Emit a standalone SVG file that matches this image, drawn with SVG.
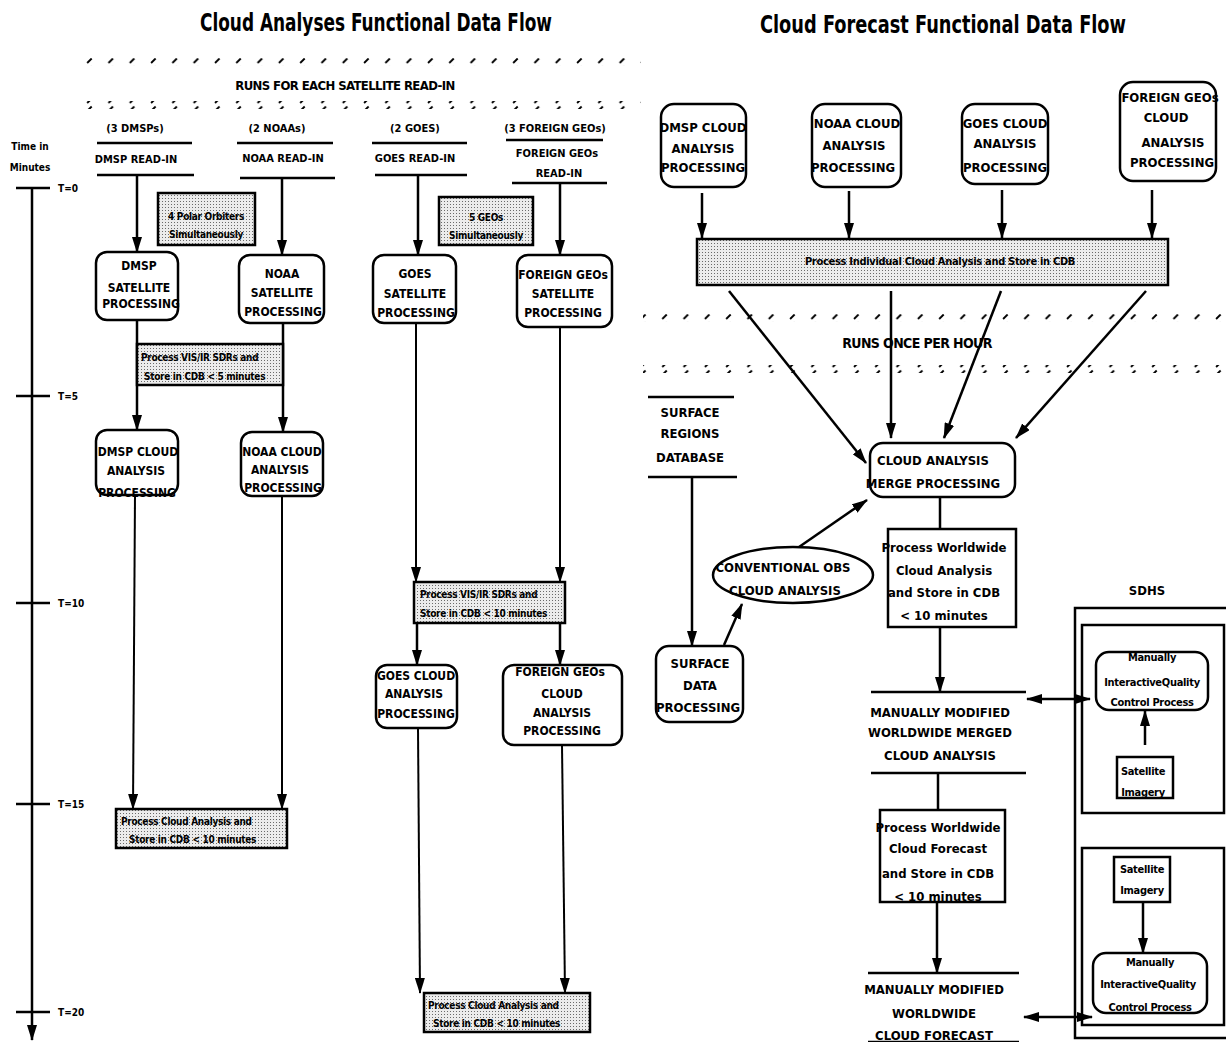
<svg xmlns="http://www.w3.org/2000/svg" width="1226" height="1042" viewBox="0 0 1226 1042">
<style>
  text { font-family: "Liberation Sans Narrow", "Arial Narrow", "DejaVu Sans Condensed", "Liberation Sans", sans-serif; font-weight: bold; fill: #000; text-anchor: middle; }
  .title { font-size: 24px; }
  .band { font-size: 13px; letter-spacing: -0.6px; }
  .hdr { font-size: 11px; }
  .lbl { font-size: 12px; }
  .big { font-size: 13px; }
  .sm { font-size: 10px; text-anchor: start; letter-spacing: -0.3px; }
  .smc { font-size: 10px; letter-spacing: -0.3px; }
  .time { font-size: 10px; text-anchor: start; }
  .box { fill: #fff; stroke: #000; stroke-width: 2.5; }
  .shade { fill: url(#dots); stroke: #000; stroke-width: 2.5; }
  .rule { stroke: #000; stroke-width: 2.5; fill: none; }
  .arr { stroke: #000; stroke-width: 2.5; fill: none; marker-end: url(#ah); }
  .thin { stroke: #000; stroke-width: 2; fill: none; marker-end: url(#ah); }
  .dbl { stroke: #000; stroke-width: 2.5; fill: none; marker-end: url(#ah); marker-start: url(#ah); }
  .frame { fill: none; stroke: #000; stroke-width: 2.5; }
</style>
<defs>
  <pattern id="dots" width="3" height="3" patternUnits="userSpaceOnUse">
    <rect width="3" height="3" fill="#ececec"/>
    <rect width="1" height="1" fill="#6a6a6a"/>
  </pattern>
  <pattern id="slash" width="21.3" height="8" patternUnits="userSpaceOnUse">
    <line x1="2" y1="7" x2="6.5" y2="2.5" stroke="#000" stroke-width="1.8"/>
  </pattern>
  <marker id="ah" markerUnits="userSpaceOnUse" markerWidth="16" markerHeight="10" viewBox="0 0 16 10" refX="15" refY="5" orient="auto-start-reverse">
    <path d="M0,0 L16,5 L0,10 z" fill="#000"/>
  </marker>
</defs>

<!-- headings -->
<text class="title" x="376" y="31" textLength="352" lengthAdjust="spacingAndGlyphs">Cloud Analyses Functional Data Flow</text>
<text class="title" x="943" y="33" textLength="366" lengthAdjust="spacingAndGlyphs">Cloud Forecast Functional Data Flow</text>

<!-- run-frequency bands -->
<g id="band-satellite">
  <rect x="85" y="58" width="556" height="8" fill="url(#slash)"/>
  <text class="band" x="345" y="90">RUNS FOR EACH SATELLITE READ-IN</text>
  <rect x="85" y="101" width="556" height="8" fill="url(#slash)"/>
</g>
<g id="band-hourly">
  <rect x="643" y="314" width="583" height="8" fill="url(#slash)"/>
  <text class="band" x="917" y="348" style="font-size:14px">RUNS ONCE PER HOUR</text>
  <rect x="643" y="365" width="583" height="8" fill="url(#slash)"/>
</g>

<!-- time axis -->
<g id="time-axis">
  <text class="hdr" x="30" y="150" style="font-size:10px">Time in</text>
  <text class="hdr" x="30" y="171" style="font-size:10px">Minutes</text>
  <line x1="32" y1="188" x2="32" y2="1040" stroke="#000" stroke-width="2.5" marker-end="url(#ah)"/>
  <line x1="16" y1="188" x2="50" y2="188" stroke="#000" stroke-width="2.5"/>
  <line x1="16" y1="396" x2="50" y2="396" stroke="#000" stroke-width="2.5"/>
  <line x1="16" y1="603" x2="50" y2="603" stroke="#000" stroke-width="2.5"/>
  <line x1="16" y1="804" x2="50" y2="804" stroke="#000" stroke-width="2.5"/>
  <line x1="16" y1="1012" x2="50" y2="1012" stroke="#000" stroke-width="2.5"/>
  <text class="time" x="58" y="192">T=0</text>
  <text class="time" x="58" y="400">T=5</text>
  <text class="time" x="58" y="607">T=10</text>
  <text class="time" x="58" y="808">T=15</text>
  <text class="time" x="58" y="1016">T=20</text>
</g>

<!-- read-in data stores -->
<g id="dmsp-readin">
  <text class="hdr" x="135" y="132">(3 DMSPs)</text>
  <line class="rule" x1="97" y1="143" x2="192" y2="143"/>
  <text class="hdr" x="136" y="163">DMSP READ-IN</text>
  <line class="rule" x1="97" y1="175" x2="194" y2="175"/>
</g>
<g id="noaa-readin">
  <text class="hdr" x="277" y="132">(2 NOAAs)</text>
  <line class="rule" x1="237" y1="143" x2="333" y2="143"/>
  <text class="hdr" x="283" y="162">NOAA READ-IN</text>
  <line class="rule" x1="240" y1="178" x2="335" y2="178"/>
</g>
<g id="goes-readin">
  <text class="hdr" x="415" y="132">(2 GOES)</text>
  <line class="rule" x1="372" y1="143" x2="467" y2="143"/>
  <text class="hdr" x="415" y="162">GOES READ-IN</text>
  <line class="rule" x1="375" y1="175" x2="467" y2="175"/>
</g>
<g id="foreign-readin">
  <text class="hdr" x="555" y="132">(3 FOREIGN GEOs)</text>
  <line class="rule" x1="506" y1="140" x2="603" y2="140"/>
  <text class="hdr" x="557" y="157">FOREIGN GEOs</text>
  <text class="hdr" x="559" y="177">READ-IN</text>
  <line class="rule" x1="512" y1="183" x2="607" y2="183"/>
</g>

<!-- notes -->
<g id="polar-note">
  <rect class="shade" x="158" y="193" width="97" height="52"/>
  <text class="smc" x="206" y="220">4 Polar Orbiters</text>
  <text class="smc" x="206" y="238">Simultaneously</text>
</g>
<g id="geo-note">
  <rect class="shade" x="439" y="197" width="94" height="48"/>
  <text class="smc" x="486" y="221">5 GEOs</text>
  <text class="smc" x="486" y="239">Simultaneously</text>
</g>

<!-- connectors -->
<g id="connectors">
  <!-- satellite analyses -->
  <line class="arr" x1="137" y1="175" x2="137" y2="252"/>
  <line class="arr" x1="282" y1="178" x2="282" y2="255"/>
  <line class="arr" x1="418" y1="175" x2="418" y2="255"/>
  <line class="arr" x1="560" y1="183" x2="560" y2="255"/>
  <line class="arr" x1="137" y1="320" x2="137" y2="430"/>
  <line class="arr" x1="283" y1="323" x2="283" y2="432"/>
  <line class="thin" x1="135" y1="495" x2="133" y2="809"/>
  <line class="thin" x1="282" y1="496" x2="282" y2="809"/>
  <line class="thin" x1="416" y1="323" x2="416" y2="582"/>
  <line class="thin" x1="560" y1="327" x2="560" y2="582"/>
  <line class="arr" x1="417" y1="623" x2="417" y2="665"/>
  <line class="arr" x1="560" y1="623" x2="560" y2="665"/>
  <line class="thin" x1="418" y1="728" x2="420" y2="993"/>
  <line class="thin" x1="562" y1="745" x2="565" y2="993"/>
  <!-- forecast flow -->
  <line class="arr" x1="702" y1="193" x2="702" y2="238"/>
  <line class="arr" x1="849" y1="191" x2="849" y2="238"/>
  <line class="arr" x1="1002" y1="190" x2="1002" y2="238"/>
  <line class="arr" x1="1152" y1="190" x2="1152" y2="238"/>
  <line class="arr" x1="729" y1="291" x2="866" y2="463"/>
  <line class="arr" x1="891" y1="291" x2="891" y2="438"/>
  <line class="arr" x1="1001" y1="291" x2="944" y2="438"/>
  <line class="arr" x1="1146" y1="291" x2="1016" y2="438"/>
  <line class="arr" x1="692" y1="477" x2="692" y2="646"/>
  <line class="arr" x1="724" y1="645" x2="742" y2="604"/>
  <line class="arr" x1="799" y1="547" x2="867" y2="500"/>
  <line class="rule" x1="940" y1="497" x2="940" y2="529"/>
  <line class="arr" x1="940" y1="627" x2="940" y2="692"/>
  <line class="rule" x1="938" y1="773" x2="938" y2="810"/>
  <line class="arr" x1="937" y1="902" x2="937" y2="973"/>
  <line class="dbl" x1="1027" y1="699" x2="1090" y2="699"/>
  <line class="dbl" x1="1024" y1="1017" x2="1092" y2="1017"/>
  <line class="arr" x1="1145" y1="745" x2="1145" y2="711"/>
  <line class="arr" x1="1143" y1="902" x2="1143" y2="953"/>
</g>

<!-- satellite processing -->
<g id="dmsp-sat">
  <rect class="box" x="96" y="252" width="82" height="68" rx="11"/>
  <text class="lbl" x="139" y="270">DMSP</text>
  <text class="lbl" x="139" y="292">SATELLITE</text>
  <text class="lbl" x="141" y="308">PROCESSING</text>
</g>
<g id="noaa-sat">
  <rect class="box" x="239" y="255" width="85" height="68" rx="11"/>
  <text class="lbl" x="282" y="278">NOAA</text>
  <text class="lbl" x="282" y="297">SATELLITE</text>
  <text class="lbl" x="283" y="316">PROCESSING</text>
</g>
<g id="goes-sat">
  <rect class="box" x="373" y="255" width="83" height="68" rx="11"/>
  <text class="lbl" x="415" y="278">GOES</text>
  <text class="lbl" x="415" y="298">SATELLITE</text>
  <text class="lbl" x="416" y="317">PROCESSING</text>
</g>
<g id="foreign-sat">
  <rect class="box" x="517" y="255" width="95" height="72" rx="11"/>
  <text class="lbl" x="563" y="279">FOREIGN GEOs</text>
  <text class="lbl" x="563" y="298">SATELLITE</text>
  <text class="lbl" x="563" y="317">PROCESSING</text>
</g>

<!-- SDR processing steps -->
<g id="polar-sdr">
  <rect class="shade" x="137" y="344" width="146" height="41"/>
  <text class="sm" x="141" y="361">Process VIS/IR SDRs and</text>
  <text class="sm" x="144" y="380">Store in CDB &lt; 5 minutes</text>
</g>
<g id="geo-sdr">
  <rect class="shade" x="414" y="582" width="151" height="41"/>
  <text class="sm" x="420" y="598">Process VIS/IR SDRs and</text>
  <text class="sm" x="420" y="617">Store in CDB &lt; 10 minutes</text>
</g>

<!-- cloud analysis processing (left) -->
<g id="dmsp-cloud">
  <text class="lbl" x="138" y="456">DMSP CLOUD</text>
  <text class="lbl" x="136" y="475">ANALYSIS</text>
  <text class="lbl" x="137" y="497">PROCESSING</text>
  <rect class="box" x="96" y="430" width="82" height="65" rx="11" style="fill:none"/>
</g>
<g id="noaa-cloud">
  <text class="lbl" x="282" y="456">NOAA CLOUD</text>
  <text class="lbl" x="280" y="474">ANALYSIS</text>
  <text class="lbl" x="283" y="492">PROCESSING</text>
  <rect class="box" x="241" y="432" width="82" height="64" rx="11" style="fill:none"/>
</g>
<g id="goes-cloud">
  <text class="lbl" x="416" y="680">GOES CLOUD</text>
  <text class="lbl" x="414" y="698">ANALYSIS</text>
  <text class="lbl" x="416" y="718">PROCESSING</text>
  <rect class="box" x="376" y="665" width="81" height="63" rx="11" style="fill:none"/>
</g>
<g id="foreign-cloud">
  <text class="lbl" x="560" y="676">FOREIGN GEOs</text>
  <text class="lbl" x="562" y="698">CLOUD</text>
  <text class="lbl" x="562" y="717">ANALYSIS</text>
  <text class="lbl" x="562" y="735">PROCESSING</text>
  <rect class="box" x="503" y="665" width="119" height="80" rx="11" style="fill:none"/>
</g>

<!-- cloud analysis storage steps -->
<g id="polar-store">
  <rect class="shade" x="116" y="809" width="171" height="39"/>
  <text class="sm" x="121" y="825">Process Cloud Analysis and</text>
  <text class="sm" x="129" y="843">Store in CDB &lt; 10 minutes</text>
</g>
<g id="geo-store">
  <rect class="shade" x="424" y="993" width="166" height="39"/>
  <text class="sm" x="428" y="1009">Process Cloud Analysis and</text>
  <text class="sm" x="433" y="1027">Store in CDB &lt; 10 minutes</text>
</g>

<!-- forecast side: individual analyses -->
<g id="f-dmsp">
  <rect class="box" x="661" y="104" width="85" height="83" rx="13"/>
  <text class="big" x="703" y="132">DMSP CLOUD</text>
  <text class="big" x="703" y="153">ANALYSIS</text>
  <text class="big" x="703" y="172">PROCESSING</text>
</g>
<g id="f-noaa">
  <rect class="box" x="812" y="104" width="89" height="83" rx="13"/>
  <text class="big" x="857" y="128">NOAA CLOUD</text>
  <text class="big" x="854" y="150">ANALYSIS</text>
  <text class="big" x="853" y="172">PROCESSING</text>
</g>
<g id="f-goes">
  <rect class="box" x="962" y="104" width="86" height="80" rx="13"/>
  <text class="big" x="1005" y="128">GOES CLOUD</text>
  <text class="big" x="1005" y="148">ANALYSIS</text>
  <text class="big" x="1005" y="172">PROCESSING</text>
</g>
<g id="f-foreign">
  <rect class="box" x="1120" y="82" width="96" height="99" rx="13"/>
  <text class="big" x="1170" y="102">FOREIGN GEOs</text>
  <text class="big" x="1166" y="122">CLOUD</text>
  <text class="big" x="1173" y="147">ANALYSIS</text>
  <text class="big" x="1172" y="167">PROCESSING</text>
</g>
<g id="f-individual">
  <rect class="shade" x="697" y="239" width="471" height="46"/>
  <text class="smc" x="940" y="265" style="font-size:11px">Process Individual Cloud Analysis and Store in CDB</text>
</g>

<!-- merge and forecast -->
<g id="surface-regions">
  <line class="rule" x1="648" y1="397" x2="734" y2="397"/>
  <text class="big" x="690" y="417">SURFACE</text>
  <text class="big" x="690" y="438">REGIONS</text>
  <text class="big" x="690" y="462">DATABASE</text>
  <line class="rule" x1="648" y1="477" x2="737" y2="477"/>
</g>
<g id="surface-data">
  <rect class="box" x="656" y="646" width="87" height="76" rx="13"/>
  <text class="big" x="700" y="668">SURFACE</text>
  <text class="big" x="700" y="690">DATA</text>
  <text class="big" x="698" y="712">PROCESSING</text>
</g>
<g id="conventional-obs">
  <ellipse class="box" cx="793" cy="575" rx="80" ry="28"/>
  <text class="big" x="783" y="572">CONVENTIONAL OBS</text>
  <text class="big" x="785" y="595">CLOUD ANALYSIS</text>
</g>
<g id="merge">
  <rect class="box" x="870" y="443" width="145" height="54" rx="13"/>
  <text class="big" x="933" y="465">CLOUD ANALYSIS</text>
  <text class="big" x="933" y="488">MERGE PROCESSING</text>
</g>
<g id="process-analysis">
  <rect class="box" x="888" y="529" width="128" height="98"/>
  <text class="big" x="944" y="552">Process Worldwide</text>
  <text class="big" x="944" y="575">Cloud Analysis</text>
  <text class="big" x="944" y="597">and Store in CDB</text>
  <text class="big" x="944" y="620">&lt; 10 minutes</text>
</g>
<g id="merged-analysis">
  <line class="rule" x1="871" y1="692" x2="1026" y2="692"/>
  <text class="big" x="940" y="717">MANUALLY MODIFIED</text>
  <text class="big" x="940" y="737">WORLDWIDE MERGED</text>
  <text class="big" x="940" y="760">CLOUD ANALYSIS</text>
  <line class="rule" x1="871" y1="773" x2="1026" y2="773"/>
</g>
<g id="process-forecast">
  <text class="big" x="938" y="832">Process Worldwide</text>
  <text class="big" x="938" y="853">Cloud Forecast</text>
  <text class="big" x="938" y="878">and Store in CDB</text>
  <text class="big" x="938" y="901">&lt; 10 minutes</text>
  <rect class="box" x="880" y="810" width="125" height="92" style="fill:none"/>
</g>
<g id="modified-forecast">
  <line class="rule" x1="868" y1="973" x2="1019" y2="973"/>
  <text class="big" x="934" y="994">MANUALLY MODIFIED</text>
  <text class="big" x="934" y="1018">WORLDWIDE</text>
  <text class="big" x="934" y="1040">CLOUD FORECAST</text>
  <line class="rule" x1="868" y1="1042" x2="1019" y2="1042"/>
</g>

<!-- SDHS -->
<g id="sdhs">
  <text class="big" x="1147" y="595">SDHS</text>
  <path class="frame" d="M1232,608 H1075 V1038 H1232"/>
  <rect class="frame" x="1082" y="625" width="142" height="188"/>
  <rect class="frame" x="1082" y="848" width="142" height="177"/>
</g>
<g id="qc-analysis">
  <text class="smc" x="1152" y="661" style="font-size:11px">Manually</text>
  <text class="smc" x="1152" y="686" style="font-size:11px">InteractiveQuality</text>
  <text class="smc" x="1152" y="706" style="font-size:11px">Control Process</text>
  <rect class="box" x="1096" y="652" width="112" height="58" rx="13" style="fill:none"/>
</g>
<g id="imagery-analysis">
  <rect class="box" x="1117" y="757" width="56" height="41"/>
  <text class="smc" x="1143" y="775" style="font-size:11px">Satellite</text>
  <text class="smc" x="1143" y="796" style="font-size:11px">Imagery</text>
</g>
<g id="imagery-forecast">
  <rect class="box" x="1114" y="857" width="56" height="45"/>
  <text class="smc" x="1142" y="873" style="font-size:11px">Satellite</text>
  <text class="smc" x="1142" y="894" style="font-size:11px">Imagery</text>
</g>
<g id="qc-forecast">
  <text class="smc" x="1150" y="966" style="font-size:11px">Manually</text>
  <text class="smc" x="1148" y="988" style="font-size:11px">InteractiveQuality</text>
  <text class="smc" x="1150" y="1011" style="font-size:11px">Control Process</text>
  <rect class="box" x="1093" y="953" width="114" height="60" rx="13" style="fill:none"/>
</g>
</svg>
